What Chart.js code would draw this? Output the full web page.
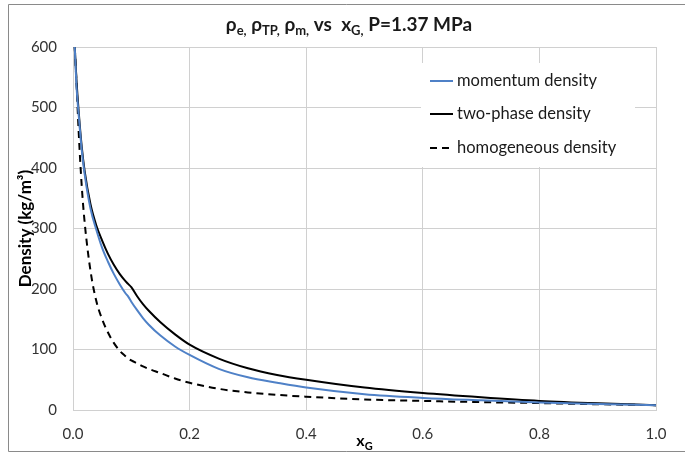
<!DOCTYPE html>
<html>
<head>
<meta charset="utf-8">
<script src="https://cdn.jsdelivr.net/npm/chart.js@4.4.1/dist/chart.umd.min.js"></script>
<style>
  html, body { margin: 0; padding: 0; background: #fff; }
</style>
</head>
<body>
<canvas id="densityChart" width="685" height="455"></canvas>
<script>
// gas quality, shared by all three curves
const xG = [0.003, 0.006, 0.01, 0.015, 0.02, 0.03, 0.04, 0.05, 0.06, 0.07, 0.08, 0.09, 0.095, 0.1,
  0.11, 0.12, 0.13, 0.15, 0.175, 0.2, 0.25, 0.3, 0.35, 0.4, 0.5, 0.6, 0.7, 0.8, 0.9, 1.0];

// densities in kg/m3
const momentumDensity = [600, 535, 485, 430, 390, 333, 298, 268, 245, 225, 208, 193, 187, 179,
  165, 152, 141, 123, 105, 91, 68, 54, 45, 37, 26, 20, 16, 12.5, 10, 8];
const twoPhaseDensity = [600, 545, 490, 435, 395, 340, 305, 280, 258, 240, 225, 213, 208, 203,
  188, 175, 164, 145, 125, 108, 85, 69, 58, 50, 37, 28, 21, 15, 11, 8];
const homogeneousDensity = [600, 540, 455, 370, 310, 230, 180, 150, 128, 111, 98, 89, 85, 82,
  77, 72, 68, 61, 52, 45, 35, 29, 25, 22, 17.5, 15, 13, 11.5, 9.5, 8];

const seriesNames = ['momentum density', 'two-phase density', 'homogeneous density'];
const xTicks = [0, 0.2, 0.4, 0.6, 0.8, 1.0];
const yTicks = [0, 100, 200, 300, 400, 500, 600];

const FONT = 'Lato, "Open Sans", sans-serif';
const GRID = '#d0d0d0';

function pairs(ys) {
  return xG.map((x, i) => ({ x: x, y: ys[i] }));
}

// text with subscript pieces, centred on cx
function drawRich(ctx, parts, cx, cy, size, weight) {
  const subSize = Math.round(size * 0.68);
  let total = 0;
  parts.forEach(p => {
    ctx.font = weight + ' ' + (p[1] ? subSize : size) + 'px ' + FONT;
    total += ctx.measureText(p[0]).width;
  });
  let x = cx - total / 2;
  ctx.textAlign = 'left';
  ctx.textBaseline = 'alphabetic';
  parts.forEach(p => {
    ctx.font = weight + ' ' + (p[1] ? subSize : size) + 'px ' + FONT;
    ctx.fillText(p[0], x, cy + (p[1] ? size * 0.22 : 0));
    x += ctx.measureText(p[0]).width;
  });
}

const decor = {
  id: 'decor',
  beforeDraw(chart) {
    const ctx = chart.ctx;
    ctx.save();
    ctx.fillStyle = '#fff';
    ctx.fillRect(0, 0, chart.width, chart.height);
    ctx.strokeStyle = '#8a8a8a';
    ctx.lineWidth = 1;
    ctx.beginPath();
    ctx.moveTo(chart.width, 4.5);
    ctx.lineTo(8.5, 4.5);
    ctx.lineTo(8.5, 451.5);
    ctx.lineTo(chart.width, 451.5);
    ctx.stroke();
    ctx.restore();
  },
  afterDraw(chart) {
    const ctx = chart.ctx;
    const area = chart.chartArea;
    ctx.save();
    ctx.fillStyle = '#1a1a1a';
    drawRich(ctx, [['ρ', 0], ['e,', 1], [' ρ', 0], ['TP,', 1], [' ρ', 0], ['m,', 1],
      [' vs  x', 0], ['G,', 1], [' P=1.37 MPa', 0]], 349, 31, 19, 'bold');

    // axis titles
    ctx.fillStyle = '#000';
    drawRich(ctx, [['x', 0], ['G', 1]], (area.left + area.right) / 2, 446, 16, 'bold');
    ctx.translate(31, (area.top + area.bottom) / 2);
    ctx.rotate(-Math.PI / 2);
    drawRich(ctx, [['Density (kg/m³)', 0]], 0, 0, 17, 'bold');
    ctx.restore();

    // legend box inside the plot
    ctx.save();
    ctx.fillStyle = '#fff';
    ctx.fillRect(421, 63, 214, 104);
    const rowsY = [81, 114, 148];
    chart.data.datasets.forEach((ds, i) => {
      ctx.strokeStyle = ds.borderColor;
      ctx.lineWidth = ds.borderWidth;
      ctx.setLineDash(ds.borderDash || []);
      ctx.beginPath();
      ctx.moveTo(430, rowsY[i]);
      ctx.lineTo(453, rowsY[i]);
      ctx.stroke();
      ctx.setLineDash([]);
      ctx.fillStyle = '#1a1a1a';
      ctx.font = '16.5px ' + FONT;
      ctx.textAlign = 'left';
      ctx.textBaseline = 'middle';
      ctx.fillText(ds.label, 457, rowsY[i]);
    });
    ctx.restore();
  }
};

const tickFont = { family: FONT, size: 15 };

new Chart(document.getElementById('densityChart'), {
  type: 'line',
  data: {
    datasets: [
      {
        label: seriesNames[0],
        data: pairs(momentumDensity),
        borderColor: '#4f81c7',
        borderWidth: 2,
        pointRadius: 0,
        fill: false,
        cubicInterpolationMode: 'monotone'
      },
      {
        label: seriesNames[1],
        data: pairs(twoPhaseDensity),
        borderColor: '#000',
        borderWidth: 2,
        pointRadius: 0,
        fill: false,
        cubicInterpolationMode: 'monotone'
      },
      {
        label: seriesNames[2],
        data: pairs(homogeneousDensity),
        borderColor: '#000',
        borderWidth: 2,
        borderDash: [7, 5],
        pointRadius: 0,
        fill: false,
        cubicInterpolationMode: 'monotone'
      }
    ]
  },
  options: {
    responsive: false,
    animation: false,
    layout: { padding: { left: 8, right: 29, top: 47, bottom: 5 } },
    plugins: {
      legend: { display: false },
      title: { display: false },
      tooltip: { enabled: false }
    },
    scales: {
      x: {
        type: 'linear',
        min: 0,
        max: 1,
        afterBuildTicks: s => { s.ticks = xTicks.map(v => ({ value: v })); },
        afterFit: s => { s.height = 40; },
        grid: { color: GRID, drawTicks: false },
        border: { color: GRID },
        ticks: {
          padding: 15,
          color: '#333',
          font: tickFont,
          maxRotation: 0,
          callback: v => Number(v).toFixed(1)
        }
      },
      y: {
        min: 0,
        max: 600,
        afterBuildTicks: s => { s.ticks = yTicks.map(v => ({ value: v })); },
        afterFit: s => { s.width = 65; },
        grid: { color: GRID, drawTicks: false },
        border: { color: GRID },
        ticks: {
          padding: 16,
          color: '#333',
          font: tickFont
        }
      }
    }
  },
  plugins: [decor]
});
</script>
</body>
</html>
